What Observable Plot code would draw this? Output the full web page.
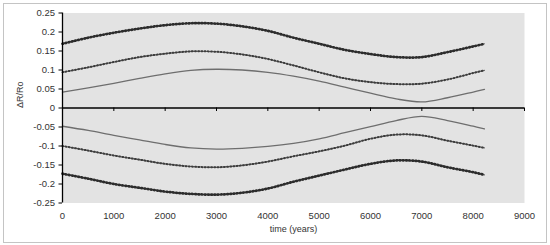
<!DOCTYPE html>
<html>
<head>
<meta charset="utf-8">
<script src="https://cdn.jsdelivr.net/npm/d3@7"></script>
<script src="https://cdn.jsdelivr.net/npm/@observablehq/plot@0.6"></script>
<style>
  html, body { margin: 0; padding: 0; background: #fff; }
  svg { display: block; }
</style>
</head>
<body>
<div id="chart"></div>
<script>
const years = [0,500,1000,1500,2000,2500,3000,3500,4000,4500,5000,5500,6000,6500,7000,7500,8000,8220];
const upperOuter  = [0.169,0.185,0.198,0.209,0.218,0.223,0.222,0.215,0.203,0.185,0.169,0.153,0.142,0.134,0.134,0.147,0.162,0.169];
const upperMiddle = [0.094,0.107,0.121,0.134,0.143,0.149,0.148,0.141,0.129,0.112,0.094,0.078,0.068,0.063,0.064,0.075,0.092,0.099];
const upperInner  = [0.042,0.053,0.065,0.078,0.090,0.099,0.102,0.100,0.094,0.084,0.071,0.055,0.039,0.024,0.016,0.027,0.042,0.049];
const lowerInner  = [-0.048,-0.059,-0.072,-0.084,-0.096,-0.105,-0.108,-0.106,-0.101,-0.093,-0.081,-0.065,-0.049,-0.033,-0.022,-0.033,-0.048,-0.055];
const lowerMiddle = [-0.100,-0.112,-0.125,-0.136,-0.147,-0.154,-0.156,-0.151,-0.141,-0.127,-0.114,-0.099,-0.081,-0.070,-0.072,-0.086,-0.099,-0.105];
const lowerOuter  = [-0.173,-0.186,-0.200,-0.210,-0.220,-0.226,-0.228,-0.223,-0.212,-0.194,-0.178,-0.162,-0.147,-0.138,-0.141,-0.156,-0.169,-0.176];
const xTicks = [0,1000,2000,3000,4000,5000,6000,7000,8000,9000];
const yTicks = [-0.25,-0.2,-0.15,-0.1,-0.05,0,0.05,0.1,0.15,0.2,0.25];

const toRows = vals => years.map((t, i) => ({t, v: vals[i]}));
const outer = [toRows(upperOuter), toRows(lowerOuter)];
const middle = [toRows(upperMiddle), toRows(lowerMiddle)];
const inner = [toRows(upperInner), toRows(lowerInner)];

const font = "'Liberation Sans', Arial, sans-serif";
const curve = "catmull-rom";

const marks = [
  Plot.frame({fill: "#e3e3e3", stroke: "none"}),
  ...inner.map(d => Plot.line(d, {x: "t", y: "v", stroke: "#6e6e6e", strokeWidth: 1.3, curve})),
  ...middle.map(d => Plot.line(d, {x: "t", y: "v", stroke: "#6a6a6a", strokeWidth: 1.2, curve})),
  ...middle.map(d => Plot.line(d, {x: "t", y: "v", stroke: "#3c3c3c", strokeWidth: 2, strokeDasharray: "0.8,2.4", curve})),
  ...outer.map(d => Plot.line(d, {x: "t", y: "v", stroke: "#666", strokeWidth: 1.2, curve})),
  ...outer.map(d => Plot.line(d, {x: "t", y: "v", stroke: "#2c2c2c", strokeWidth: 2.7, strokeDasharray: "0.8,2.4", curve})),
  Plot.ruleY([0], {stroke: "#000", strokeWidth: 1.3}),
  Plot.ruleX([0], {stroke: "#000", strokeWidth: 1.3}),
  Plot.ruleX(xTicks.slice(1), {x: d => d, y1: 0, y2: 0, insetBottom: -3.5, stroke: "#000", strokeWidth: 1}),
  Plot.axisY({ticks: yTicks, tickSize: 3.5, tickPadding: 4, tickFormat: d => String(+d.toFixed(2)),
    fontSize: 9.5, fill: "#333", label: null, fontFamily: font}),
  Plot.axisX({ticks: xTicks, tickSize: 0, tickPadding: 9, tickFormat: d => String(d),
    fontSize: 9.5, fill: "#333", label: null, fontFamily: font}),
  Plot.text(["ΔR/Ro"], {frameAnchor: "left", dx: -42, rotate: -90, fontSize: 9, fill: "#333", fontFamily: font}),
  Plot.text(["time (years)"], {frameAnchor: "bottom", dy: 28.5, fontSize: 9, fill: "#333", fontFamily: font})
];

const chart = Plot.plot({
  width: 550,
  height: 245,
  marginLeft: 62,
  marginRight: 26,
  marginTop: 12.5,
  marginBottom: 42.5,
  style: {fontFamily: font, background: "#fff", overflow: "visible"},
  x: {domain: [0, 9000]},
  y: {domain: [-0.25, 0.25]},
  marks
});

d3.select(chart).insert("rect", ":first-child")
  .attr("x", 3.5).attr("y", 3.5).attr("width", 543).attr("height", 239)
  .attr("fill", "none").attr("stroke", "#c4c4c4").attr("stroke-width", 1);

document.getElementById("chart").appendChild(chart);
</script>
</body>
</html>
